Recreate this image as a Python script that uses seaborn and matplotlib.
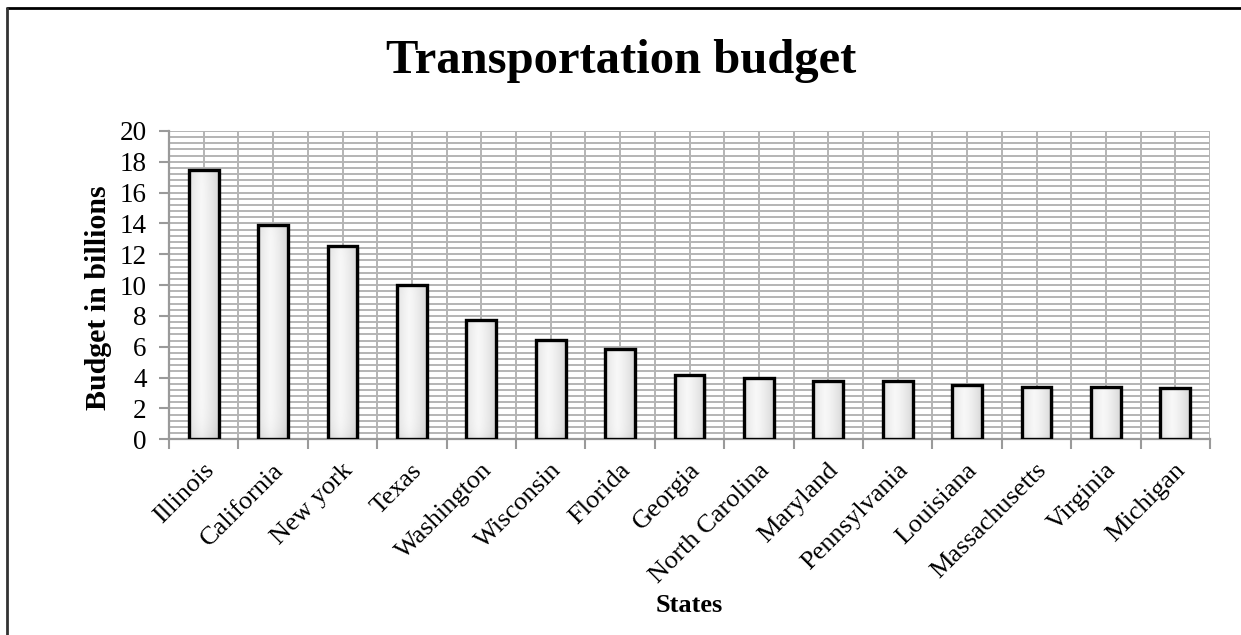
import numpy as np
import pandas as pd
import matplotlib
matplotlib.use("Agg")
import matplotlib.pyplot as plt
import matplotlib.transforms as mtransforms
import seaborn as sns
from matplotlib.ticker import MultipleLocator, FixedLocator
from matplotlib.lines import Line2D

# Transportation budget by state (billions of dollars)
states = ["Illinois", "California", "New york", "Texas", "Washington",
          "Wisconsin", "Florida", "Georgia", "North Carolina", "Maryland",
          "Pennsylvania", "Louisiana", "Massachusetts", "Virginia", "Michigan"]
budget = [17.5, 13.9, 12.55, 10.0, 7.75, 6.45, 5.85, 4.2, 4.0, 3.75,
          3.75, 3.5, 3.4, 3.4, 3.3]
y_ticks = [0, 2, 4, 6, 8, 10, 12, 14, 16, 18, 20]

df = pd.DataFrame({"State": states, "Budget": budget})

sns.set_theme(style="white")
plt.rcParams["font.family"] = ["Liberation Serif", "DejaVu Serif"]
plt.rcParams["text.color"] = "black"
plt.rcParams["axes.labelcolor"] = "black"
plt.rcParams["xtick.labelcolor"] = "black"
plt.rcParams["ytick.labelcolor"] = "black"

W, H = 1241, 635
fig = plt.figure(figsize=(W / 100, H / 100), dpi=100)
fig.patch.set_facecolor("white")
ax = fig.add_axes([169 / W, 1 - 439.3 / H, (1210 - 169) / W, (439.3 - 131) / H])

sns.barplot(data=df, x="State", y="Budget", ax=ax, width=0.43,
            color="#e6e6e6", edgecolor="black", linewidth=2.4,
            zorder=3, saturation=1)

# shaded fill for each bar: bright centre, grey sides, soft bevel at top/bottom
nx, ny = 60, 200
u = np.linspace(0, 1, nx)[None, :]
v = np.linspace(0, 1, ny)[:, None]
horiz = 0.97 - 0.25 * np.abs(u - 0.42) ** 1.3
shade = horiz - 0.06 * np.exp(-v / 0.04) - 0.02 * np.exp(-(1 - v) / 0.03)
for bar in ax.patches:
    x0, w = bar.get_x(), bar.get_width()
    h = bar.get_height()
    # faint drop shadow
    ax.bar(x0 + w / 2 + 0.03, h, width=w, bottom=-0.12, color="#000000",
           alpha=0.08, linewidth=0, zorder=2.5)
    im = ax.imshow(shade, extent=[x0, x0 + w, 0, h], origin="lower",
                   aspect="auto", cmap="gray", vmin=0, vmax=1,
                   zorder=3.05, interpolation="bilinear")
    im.set_clip_path(bar)
    bar.set_facecolor("none")
    bar.set_zorder(3.1)

ax.set_xlim(-0.5, len(states) - 0.5)
ax.set_ylim(0, 20)

# grid: every 0.4 horizontally, half-category vertically
ax.yaxis.set_major_locator(FixedLocator(y_ticks))
ax.yaxis.set_minor_locator(MultipleLocator(0.4))
ax.xaxis.set_minor_locator(FixedLocator(np.arange(-0.5, len(states), 1.0)))
grid_kw = dict(color="#b4b4b4", linewidth=1.4, zorder=0)
ax.grid(True, which="both", axis="both", **grid_kw)
ax.set_axisbelow(True)

for side in ["top", "right"]:
    ax.spines[side].set_visible(False)
for side in ["left", "bottom"]:
    ax.spines[side].set_color("#9a9a9a")
    ax.spines[side].set_linewidth(1.6)

ax.tick_params(axis="x", which="major", length=0, pad=12)
ax.tick_params(axis="x", which="minor", length=7, width=1.5, color="#9a9a9a",
               direction="out", bottom=True)
ax.tick_params(axis="y", which="major", length=7, width=1.5, color="#9a9a9a",
               direction="out", left=True, labelsize=19.5, pad=9)
ax.tick_params(axis="y", which="minor", length=0)

ax.set_xticks(range(len(states)))
ax.set_xticklabels(states, rotation=45, ha="right", va="center",
                   rotation_mode="anchor", fontsize=19)
# nudge the slanted state names right and down
shift = mtransforms.ScaledTranslation(7 / 100, -11 / 100, fig.dpi_scale_trans)
for lab in ax.get_xticklabels():
    lab.set_transform(lab.get_transform() + shift)

ax.set_xlabel("")
ax.set_ylabel("")
fig.text(98 / W, 1 - 298 / H, "Budget in billions", rotation=90,
         ha="center", va="center", fontsize=21.5, fontweight="bold")
fig.text(689 / W, 1 - 605 / H, "States", ha="center", va="center",
         fontsize=19, fontweight="bold")
fig.text(621 / W, 1 - 61 / H, "Transportation budget", ha="center",
         va="center", fontsize=35, fontweight="bold")

# chart-area border (top and left edges)
fig.add_artist(Line2D([7 / W, 1], [1 - 8 / H, 1 - 8 / H],
                      transform=fig.transFigure, color="black", linewidth=2))
fig.add_artist(Line2D([7 / W, 7 / W], [0, 1 - 8 / H],
                      transform=fig.transFigure, color="#333333", linewidth=2))

fig.savefig("out.png", dpi=100)
